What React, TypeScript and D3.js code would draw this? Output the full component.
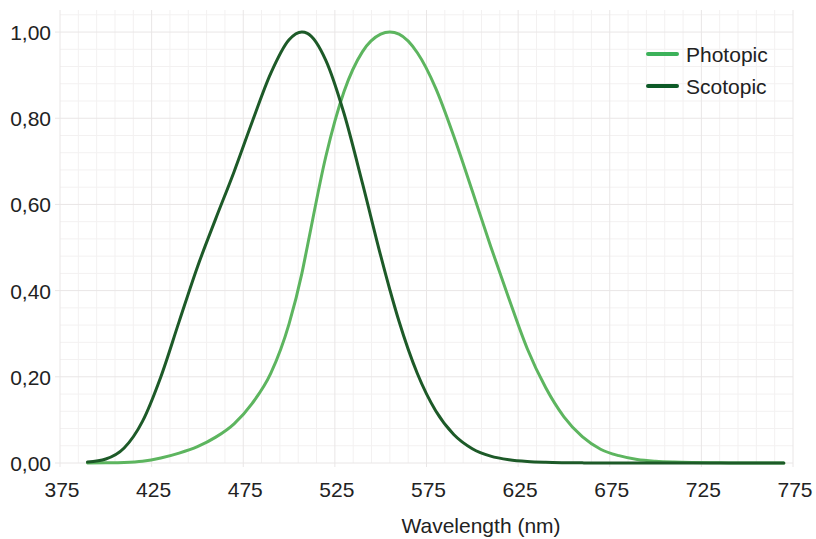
import React from "react";
import * as d3 from "d3";

const wavelengths = [390, 400, 410, 420, 430, 440, 450, 460, 470, 480, 490, 500, 507, 510, 520, 530, 540, 550, 555, 560, 570, 580, 590, 600, 610, 620, 630, 640, 650, 660, 670, 680, 690, 700, 710, 720, 730, 740, 750, 760, 770];
const photopic = [0.00012, 0.0004, 0.0012, 0.004, 0.0116, 0.023, 0.038, 0.06, 0.091, 0.139, 0.208, 0.323, 0.44, 0.503, 0.71, 0.862, 0.954, 0.995, 1.0, 0.995, 0.952, 0.87, 0.757, 0.631, 0.503, 0.381, 0.265, 0.175, 0.107, 0.061, 0.032, 0.017, 0.0082, 0.0041, 0.0021, 0.00105, 0.00052, 0.00025, 0.00012, 0.00006, 0.00003];
const scotopic = [0.0022, 0.0093, 0.0348, 0.0966, 0.1998, 0.3281, 0.455, 0.567, 0.676, 0.793, 0.904, 0.982, 1.0, 0.997, 0.935, 0.811, 0.65, 0.481, 0.402, 0.3288, 0.2076, 0.1212, 0.0655, 0.0332, 0.0159, 0.0074, 0.0033, 0.0015, 0.0007, 0.0003, 0.00015, 0.00007, 0.00003, 0.00002, 0.00001, 0, 0, 0, 0, 0, 0];
const xTicks = [375, 425, 475, 525, 575, 625, 675, 725, 775];
const yTicks = [0, 0.2, 0.4, 0.6, 0.8, 1.0];
const yTickLabels = ["0,00", "0,20", "0,40", "0,60", "0,80", "1,00"];
const seriesNames = ["Photopic", "Scotopic"];

const FONT = "'Liberation Sans', Arial, Helvetica, sans-serif";

export default function App() {
  const W = 816, H = 539;
  const x = d3.scaleLinear().domain([375, 775]).range([60, 793]);
  const y = d3.scaleLinear().domain([0, 1.05]).range([463, 10.5]);

  const minorX = d3.range(375, 776, 10).filter((v) => (v - 375) % 50 !== 0);
  const minorY = d3.range(0, 1.041, 0.04).filter((_, i) => i % 5 !== 0);

  const line = (vals: number[]) =>
    d3
      .line<number>()
      .x((_, i) => x(wavelengths[i]))
      .y((v) => y(v))
      .curve(d3.curveMonotoneX)(vals) || "";

  const curveColors = ["#5db55f", "#1d5a28"];
  const legendColors = ["#3cb25a", "#0d5a27"];
  const series = [photopic, scotopic];

  return (
    <svg width={W} height={H} style={{ position: "absolute", left: 0, top: 0, background: "#fff" }}>
      <g>
        {minorX.map((v) => (
          <line key={"mx" + v} x1={x(v)} x2={x(v)} y1={10} y2={463} stroke="#f3f1f1" strokeWidth={1} />
        ))}
        {minorY.map((v) => (
          <line key={"my" + v} x1={60} x2={793} y1={y(v)} y2={y(v)} stroke="#f3f1f1" strokeWidth={1} />
        ))}
        {xTicks.map((v) => (
          <line key={"Mx" + v} x1={x(v)} x2={x(v)} y1={10} y2={467} stroke="#e9e6e6" strokeWidth={1} />
        ))}
        {yTicks.map((v) => (
          <line key={"My" + v} x1={55} x2={793} y1={y(v)} y2={y(v)} stroke="#e9e6e6" strokeWidth={1} />
        ))}
      </g>
      <g>
        {series.map((s, i) => (
          <path key={i} d={line(s)} fill="none" stroke={curveColors[i]} strokeWidth={3} strokeLinejoin="round" strokeLinecap="round" />
        ))}
      </g>
      <g fontFamily={FONT} fontSize={21} fill="#222">
        {yTicks.map((v, i) => (
          <text key={"yl" + v} x={51} y={y(v) + 8} textAnchor="end">
            {yTickLabels[i]}
          </text>
        ))}
        {xTicks.map((v) => (
          <text key={"xl" + v} x={x(v) + 2} y={497} textAnchor="middle">
            {v}
          </text>
        ))}
        <text x={481} y={533} textAnchor="middle">
          Wavelength (nm)
        </text>
      </g>
      <g fontFamily={FONT} fontSize={21} fill="#222">
        {seriesNames.map((n, i) => (
          <g key={n} transform={`translate(0, ${54 + i * 32})`}>
            <line x1={648} x2={677} y1={0} y2={0} stroke={legendColors[i]} strokeWidth={4} strokeLinecap="round" />
            <text x={686} y={7.5}>
              {n}
            </text>
          </g>
        ))}
      </g>
    </svg>
  );
}
